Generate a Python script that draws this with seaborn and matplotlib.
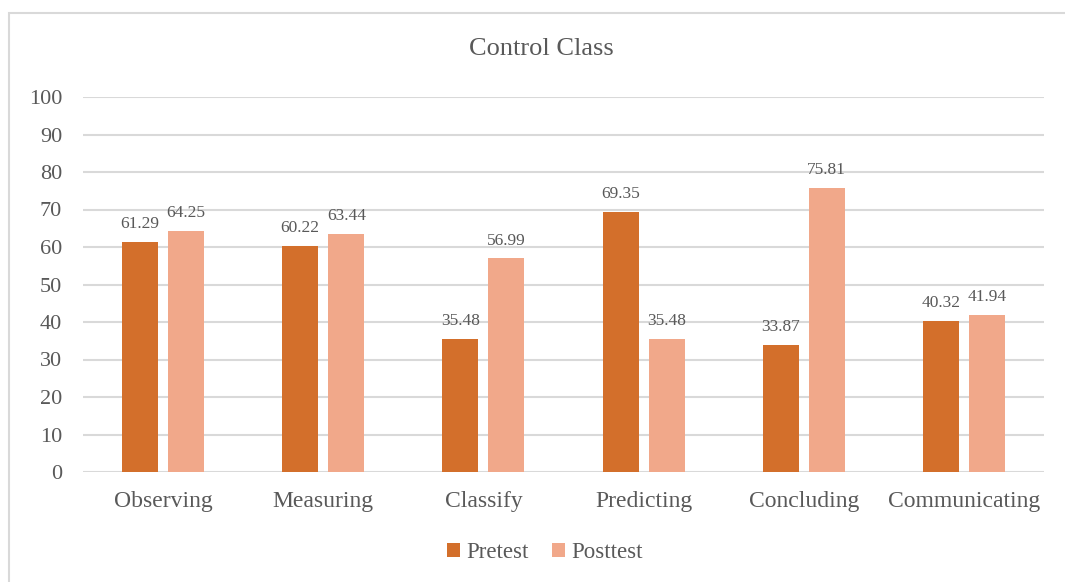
import matplotlib
matplotlib.use("Agg")
import matplotlib.pyplot as plt
from matplotlib.patches import Rectangle
import seaborn as sns
import pandas as pd

# Science process skill scores for the control class
skills = ["Observing", "Measuring", "Classify", "Predicting", "Concluding", "Communicating"]
pretest = [61.29, 60.22, 35.48, 69.35, 33.87, 40.32]
posttest = [64.25, 63.44, 56.99, 35.48, 75.81, 41.94]
series = ["Pretest", "Posttest"]
yticks = [0, 10, 20, 30, 40, 50, 60, 70, 80, 90, 100]

df = pd.DataFrame({
    "skill": skills * 2,
    "score": pretest + posttest,
    "test": [series[0]] * len(skills) + [series[1]] * len(skills),
})

sns.set_theme(style="white")
plt.rcParams["font.family"] = ["Liberation Serif", "DejaVu Serif"]
text_color = "#595959"
grid_color = "#D9D9D9"
colors = ["#D36F2B", "#F1A88A"]

W, H = 1065, 582
fig = plt.figure(figsize=(W / 100, H / 100), dpi=100)
fig.patch.set_facecolor("white")

# light frame around the chart area
fig.patches.append(Rectangle((9 / W, -0.05), 1.2, 1 - 13 / H + 0.05,
                             transform=fig.transFigure, fill=False,
                             edgecolor=grid_color, linewidth=1.5, zorder=0))

left, right, top, bottom = 83 / W, 1044 / W, 1 - 97 / H, 1 - 472 / H
ax = fig.add_axes([left, bottom, right - left, top - bottom])

sns.barplot(data=df, x="skill", y="score", hue="test", hue_order=series,
            palette=colors, saturation=1, width=0.575, gap=0.217,
            linewidth=0, edgecolor="none",
            ax=ax, zorder=3, legend=True)

for cont in ax.containers:
    ax.bar_label(cont, fmt="%.2f", padding=7, fontsize=12.5, color=text_color)

ax.set_ylim(0, 100)
ax.set_xlim(-0.5, len(skills) - 0.5)
ax.set_yticks(yticks)
ax.set_yticklabels([str(v) for v in yticks])
ax.yaxis.grid(True, color=grid_color, linewidth=1.5, zorder=0)
ax.set_axisbelow(True)
for s in ["left", "right", "top", "bottom"]:
    ax.spines[s].set_visible(False)
ax.tick_params(axis="both", length=0, colors=text_color)
ax.tick_params(axis="y", pad=15, labelsize=16)
ax.tick_params(axis="x", pad=14, labelsize=17)
ax.set_xlabel("")
ax.set_ylabel("")

fig.text(541 / W, 1 - 49 / H, "Control Class", ha="center", va="center",
         fontsize=19, color=text_color)

handles, labels = ax.get_legend_handles_labels()
ax.legend_.remove()
leg = fig.legend(handles, labels, loc="center", bbox_to_anchor=(545 / W, 1 - 553 / H),
                 ncol=2, frameon=False, fontsize=16.5, handlelength=0.55,
                 handleheight=0.55, handletextpad=0.3, columnspacing=1.0)
for t in leg.get_texts():
    t.set_color(text_color)

fig.savefig("out.png", dpi=100, facecolor="white")
